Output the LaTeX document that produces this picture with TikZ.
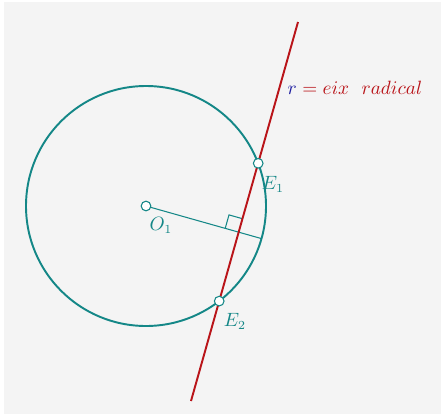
\documentclass[tikz,border=0pt]{standalone}
\usetikzlibrary{calc}
\definecolor{tealc}{RGB}{20,135,135}
\definecolor{redc}{RGB}{185,20,25}
\definecolor{bluec}{RGB}{30,30,160}
\definecolor{bgc}{RGB}{244,244,244}
\begin{document}
\begin{tikzpicture}[x=0.02cm,y=-0.02cm,
  pt/.style={circle,draw=tealc,fill=white,line width=0.6pt,inner sep=0pt,minimum size=5.5pt},
  lbl/.style={text=tealc,font=\fontsize{10.7}{13}\selectfont},
  circ/.style={draw=tealc,line width=1.1pt},
  radl/.style={draw=tealc,line width=0.6pt},
  redline/.style={draw=redc,line width=1.1pt}]
\useasboundingbox (0,0) rectangle (443,416);
\fill[white] (0,0) rectangle (443,416);
\fill[bgc] (4,2) rectangle (441,414);
\coordinate (O) at (146,206);
\coordinate (A) at (298,22);
\coordinate (B) at (191,401);
\coordinate (F) at (238.7,232.2);
\coordinate (R) at (261.5,238.6);
\coordinate (M1) at (225.2,228.4);
\coordinate (M2) at (229.0,214.9);
\coordinate (M3) at (242.5,218.7);
\draw[circ] (O) circle (120);
\draw[radl] (O) -- (R);
\draw[radl] (M1) -- (M2) -- (M3);
\draw[redline] (A) -- (B);
\node[pt] (E1) at (258.2,163.3) {};
\node[pt] (E2) at (219.2,301.1) {};
\node[pt] (O1) at (O) {};
\node[lbl] (lO) at (161,225) {$O_1$};
\node[lbl] (lE1) at (273,184) {$E_1$};
\node[lbl] (lE2) at (235,321) {$E_2$};
\node[font=\fontsize{10.7}{13}\selectfont] (lr) at (355,88) {$\color{bluec}r\color{redc}=eix\ \ radical$};
\end{tikzpicture}
\end{document}
